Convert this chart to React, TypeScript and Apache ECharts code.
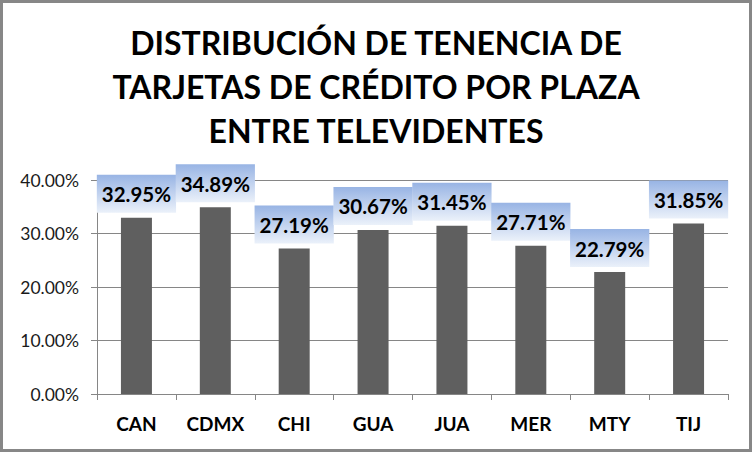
import React, { useEffect, useRef } from "react";
import * as echarts from "echarts";

const categories = ["CAN", "CDMX", "CHI", "GUA", "JUA", "MER", "MTY", "TIJ"];
const values = [32.95, 34.89, 27.19, 30.67, 31.45, 27.71, 22.79, 31.85];
const yTicks = [0, 10, 20, 30, 40];
const titleLines = [
  "DISTRIBUCIÓN DE TENENCIA DE",
  "TARJETAS DE CRÉDITO POR PLAZA",
  "ENTRE TELEVIDENTES",
];

export default function App() {
  const ref = useRef<HTMLDivElement>(null);
  useEffect(() => {
    if (!ref.current) return;
    const chart = echarts.init(ref.current, undefined, { renderer: "svg" });
    const grad = new echarts.graphic.LinearGradient(0, 0, 0, 1, [
      { offset: 0, color: "#98b4e4" },
      { offset: 1, color: "#ebf1fa" },
    ]);
    chart.setOption({
      animation: false,
      backgroundColor: "#ffffff",
      title: {
        text: titleLines.join("\n"),
        left: "center",
        top: 15,
        textStyle: {
          fontFamily: "Lato",
          fontWeight: "bold",
          fontSize: 32,
          lineHeight: 44,
          color: "#000000",
        },
      },
      graphic: [
        {
          type: "rect",
          shape: { x: 1.5, y: 1.5, width: 749, height: 449 },
          style: { fill: "none", stroke: "#878787", lineWidth: 3 },
          z: 100,
        },
      ],
      grid: { left: 97, right: 24, top: 180, bottom: 58, containLabel: false },
      xAxis: {
        type: "category",
        data: categories,
        axisLine: { show: true, lineStyle: { color: "#868686", width: 1 } },
        axisTick: { show: true, length: 6, alignWithLabel: false, lineStyle: { color: "#868686" } },
        axisLabel: {
          margin: 20,
          fontFamily: "Lato",
          fontWeight: "bold",
          fontSize: 19,
          color: "#000000",
        },
      },
      yAxis: {
        type: "value",
        min: yTicks[0],
        max: yTicks[yTicks.length - 1],
        interval: 10,
        axisLine: { show: true, lineStyle: { color: "#868686", width: 1 } },
        axisTick: { show: true, length: 6, lineStyle: { color: "#868686" } },
        splitLine: { show: true, lineStyle: { color: "#868686", width: 1 } },
        axisLabel: {
          margin: 18,
          fontFamily: "Lato",
          fontSize: 17.5,
          color: "#1a1a1a",
          formatter: (v: number) => v.toFixed(2) + "%",
        },
      },
      series: [
        {
          type: "bar",
          data: values,
          barWidth: 31,
          itemStyle: { color: "#5f5f5f" },
          label: {
            show: true,
            position: "top",
            distance: 5,
            formatter: (p: any) => p.value.toFixed(2) + "%",
            fontFamily: "Lato",
            fontWeight: "bold",
            fontSize: 20.5,
            color: "#000000",
            backgroundColor: grad,
            padding: [9, 5, 8, 5],
          },
        },
      ],
    });
    return () => chart.dispose();
  }, []);
  return (
    <div
      ref={ref}
      style={{ position: "absolute", left: 0, top: 0, width: 752, height: 452 }}
    />
  );
}
